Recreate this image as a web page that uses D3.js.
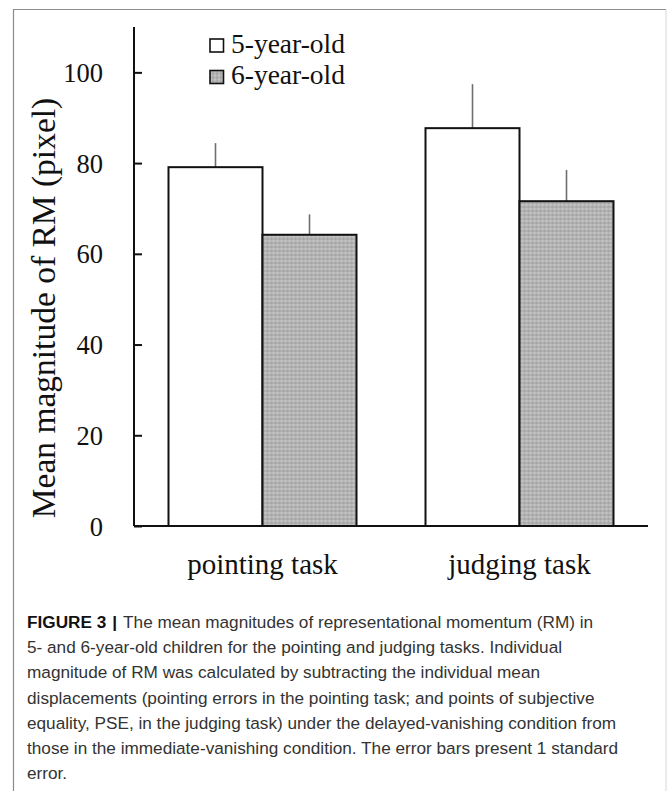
<!DOCTYPE html>
<html><head><meta charset="utf-8">
<script src="https://cdn.jsdelivr.net/npm/d3@7"></script>
<style>html,body{margin:0;padding:0;background:#fff;}svg{display:block}</style>
</head><body>
<script>
const categories = ["pointing task", "judging task"];
const groups = ["5-year-old", "6-year-old"];
const means5 = [79.1, 87.7];
const means6 = [64.2, 71.6];
const se5 = [5.3, 9.7];
const se6 = [4.5, 6.9];
const yTicks = [0, 20, 40, 60, 80, 100];
const yLabel = "Mean magnitude of RM (pixel)";
const captionBold = "FIGURE 3";
const captionLines = [
  "The mean magnitudes of representational momentum (RM) in",
  "5- and 6-year-old children for the pointing and judging tasks. Individual",
  "magnitude of RM was calculated by subtracting the individual mean",
  "displacements (pointing errors in the pointing task; and points of subjective",
  "equality, PSE, in the judging task) under the delayed-vanishing condition from",
  "those in the immediate-vanishing condition. The error bars present 1 standard",
  "error."
];

const W = 667, H = 791;
const svg = d3.select("body").append("svg").attr("width", W).attr("height", H);

const defs = svg.append("defs");
const pat = defs.append("pattern").attr("id", "dots").attr("patternUnits", "userSpaceOnUse")
  .attr("width", 4).attr("height", 4);
pat.append("rect").attr("width", 4).attr("height", 4).attr("fill", "#b3b3b3");
pat.append("rect").attr("x", 0).attr("y", 0).attr("width", 2).attr("height", 2).attr("fill", "#c4c4c4");
pat.append("rect").attr("x", 2).attr("y", 2).attr("width", 2).attr("height", 2).attr("fill", "#a6a6a6");

// outer frame
svg.append("path").attr("d", `M13.5,${H} V9.5 H666`).attr("fill", "none").attr("stroke", "#8c8c8c").attr("stroke-width", 1.2);
svg.append("line").attr("x1", 666).attr("x2", 666).attr("y1", 9.5).attr("y2", H).attr("stroke", "#d8d8d8").attr("stroke-width", 1);

const data = categories.map((c, i) => ({
  cat: c,
  vals: [
    {g: groups[0], v: means5[i], e: se5[i]},
    {g: groups[1], v: means6[i], e: se6[i]}
  ]
}));

const x0 = d3.scaleBand().domain(categories).range([134, 648]).paddingInner(0.2685).paddingOuter(0.13425);
const x1 = d3.scaleBand().domain(groups).range([0, x0.bandwidth()]);
const y = d3.scaleLinear().domain([0, 110]).range([526, 27]);
const fillFor = g => g === groups[0] ? "#ffffff" : "url(#dots)";

const plot = svg.append("g");
const gCat = plot.selectAll("g.cat").data(data).join("g").attr("class", "cat")
  .attr("transform", d => `translate(${x0(d.cat)},0)`);

// error bars (upper only)
gCat.selectAll("line.err").data(d => d.vals).join("line").attr("class", "err")
  .attr("x1", d => x1(d.g) + x1.bandwidth() / 2).attr("x2", d => x1(d.g) + x1.bandwidth() / 2)
  .attr("y1", d => y(d.v)).attr("y2", d => y(d.v + d.e))
  .attr("stroke", "#6e6e6e").attr("stroke-width", 1.6);

gCat.selectAll("rect.bar").data(d => d.vals).join("rect").attr("class", "bar")
  .attr("x", d => x1(d.g)).attr("width", x1.bandwidth())
  .attr("y", d => y(d.v)).attr("height", d => y(0) - y(d.v))
  .attr("fill", d => fillFor(d.g)).attr("stroke", "#111").attr("stroke-width", 2);

// y axis
const yAxis = d3.axisRight(y).tickValues(yTicks).tickSize(8).tickFormat("");
const ya = svg.append("g").attr("transform", "translate(134,0)").call(yAxis);
ya.select(".domain").attr("d", `M0,${y(110)} V${y(0)}`).attr("stroke", "#111").attr("stroke-width", 2);
ya.selectAll(".tick line").attr("stroke", "#111").attr("stroke-width", 2);

svg.append("g").selectAll("text").data(yTicks).join("text")
  .attr("x", 103).attr("y", d => y(d) + 9.5)
  .attr("text-anchor", "end")
  .style("font-family", "'Liberation Serif','Times New Roman',serif").style("font-size", "26.5px")
  .attr("fill", "#111").text(d => d);

// x axis
const xAxis = d3.axisBottom(x0).tickSize(0).tickFormat("");
const xa = svg.append("g").attr("transform", `translate(0,${y(0)})`).call(xAxis);
xa.select(".domain").attr("d", "M134,0 H648").attr("stroke", "#111").attr("stroke-width", 2);

svg.append("g").selectAll("text").data(categories).join("text")
  .attr("x", d => x0(d) + x0.bandwidth() / 2).attr("y", 574)
  .attr("text-anchor", "middle")
  .style("font-family", "'Liberation Serif','Times New Roman',serif").style("font-size", "29px")
  .attr("fill", "#111").text(d => d);

// y label
svg.append("text").attr("transform", "translate(55,308) rotate(-90)")
  .attr("text-anchor", "middle")
  .style("font-family", "'Liberation Serif','Times New Roman',serif").style("font-size", "33.5px")
  .attr("fill", "#111").text(yLabel);

// legend
const leg = svg.append("g");
const legItems = leg.selectAll("g").data(groups).join("g")
  .attr("transform", (d, i) => `translate(210,${39 + i * 31.5})`);
legItems.append("rect").attr("width", 13.5).attr("height", 13)
  .attr("fill", d => fillFor(d)).attr("stroke", "#111").attr("stroke-width", 1.6);
legItems.append("text").attr("x", 21).attr("y", 13.8)
  .style("font-family", "'Liberation Serif','Times New Roman',serif").style("font-size", "27.5px")
  .attr("fill", "#111").text(d => d);

// caption
const cap = svg.append("g").style("font-family", "'Liberation Sans',Arial,Helvetica,sans-serif")
  .style("font-size", "17.2px").attr("fill", "#333");
cap.selectAll("text").data(captionLines).join("text")
  .attr("x", 27).attr("y", (d, i) => 628 + i * 25.2)
  .each(function (d, i) {
    const t = d3.select(this);
    if (i === 0) {
      t.append("tspan").style("font-weight", "bold").attr("fill", "#111").text(captionBold);
      t.append("tspan").attr("dx", 6).style("font-weight", "bold").attr("fill", "#111").text("|");
      t.append("tspan").attr("dx", 6).text(d);
    } else {
      t.append("tspan").text(d);
    }
  });
</script>
</body></html>
